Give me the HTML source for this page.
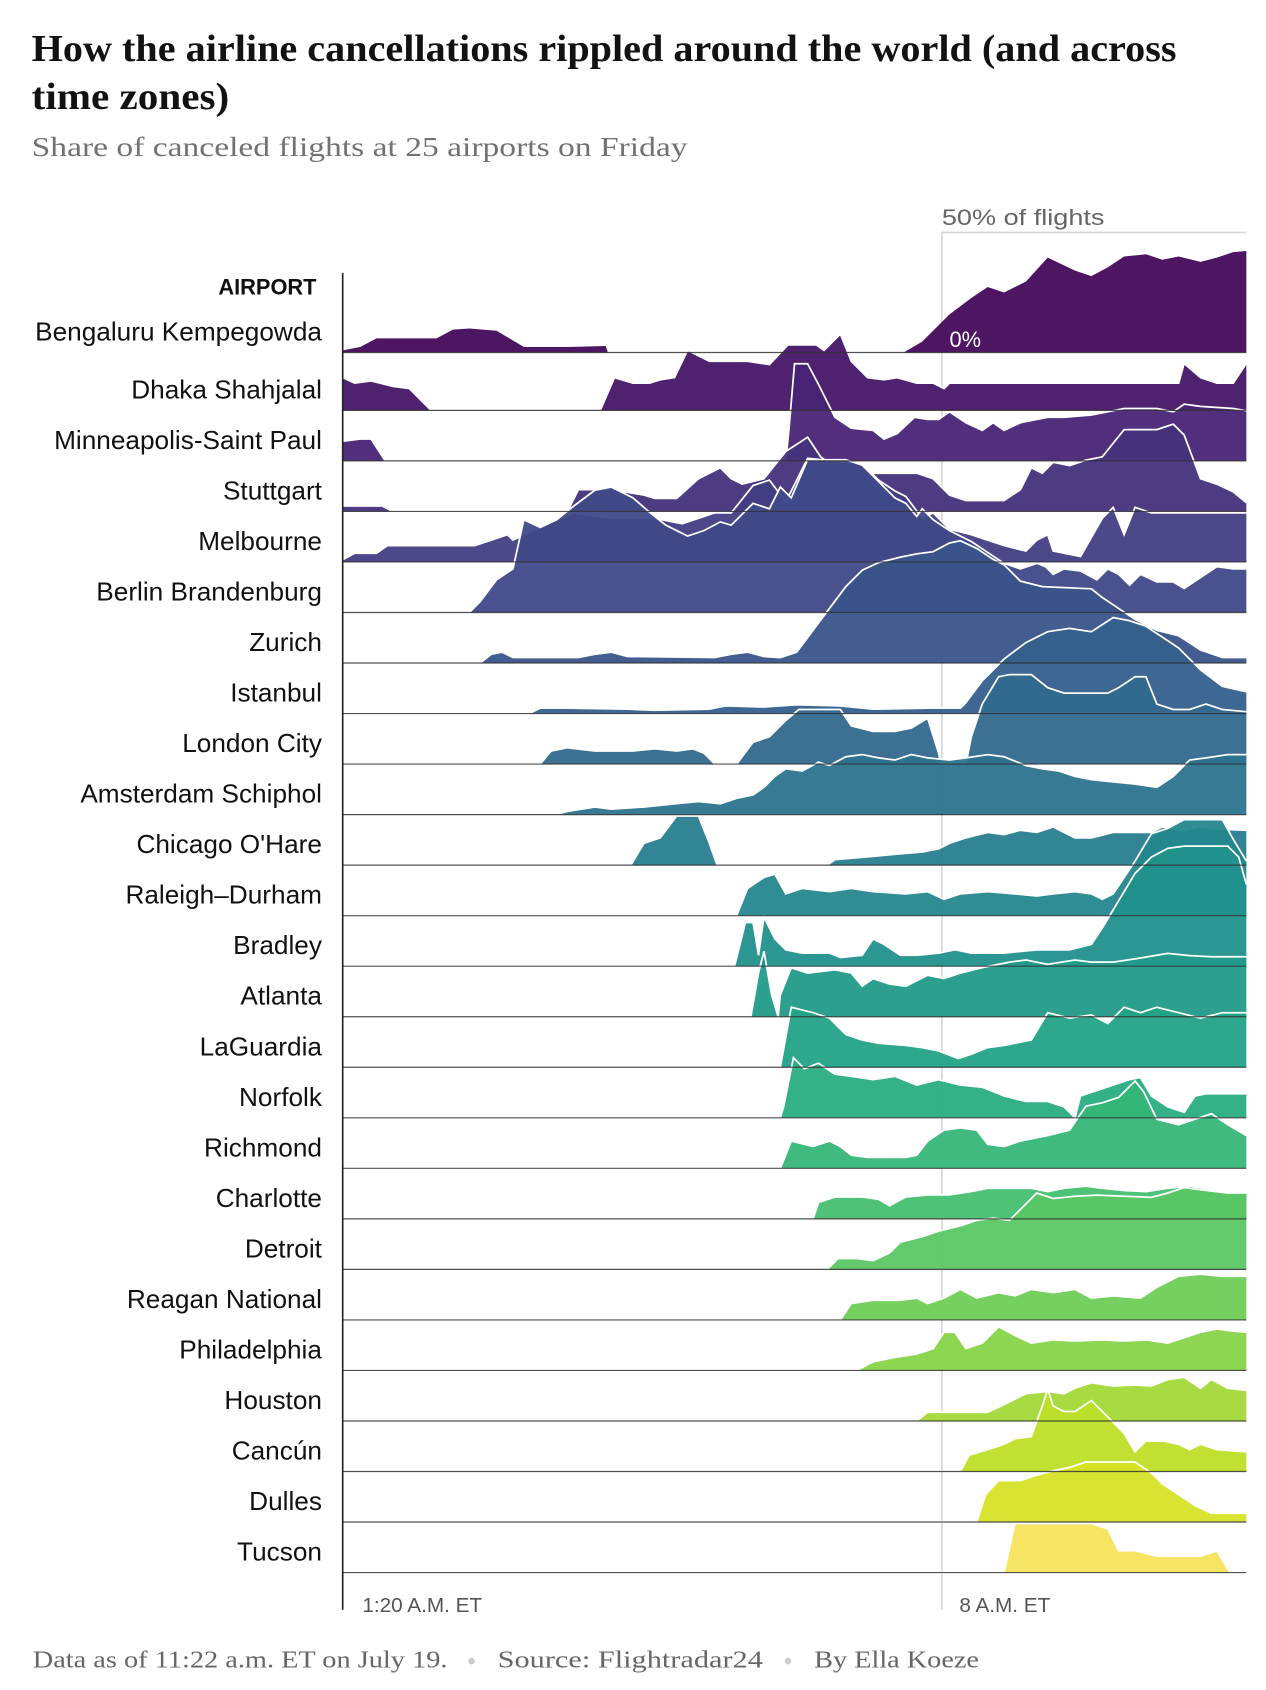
<!DOCTYPE html>
<html><head><meta charset="utf-8">
<style>
html,body{margin:0;padding:0;background:#fff;width:1266px;height:1690px;overflow:hidden}
svg{display:block}
.lab{font-family:"Liberation Sans",sans-serif;font-size:24px;fill:#111;text-anchor:end}
</style></head>
<body>
<svg id="s" width="1266" height="1690" viewBox="0 0 1160 1548.5" xmlns="http://www.w3.org/2000/svg">
<text x="29" y="56" font-family="Liberation Serif,serif" font-weight="bold" font-size="35" fill="#121212" textLength="1049" lengthAdjust="spacingAndGlyphs">How the airline cancellations rippled around the world (and across</text>
<text x="29" y="100" font-family="Liberation Serif,serif" font-weight="bold" font-size="35" fill="#121212" textLength="181" lengthAdjust="spacingAndGlyphs">time zones)</text>
<text x="29" y="143" font-family="Liberation Serif,serif" font-size="25" fill="#727272" textLength="601" lengthAdjust="spacingAndGlyphs">Share of canceled flights at 25 airports on Friday</text>
<line x1="863" y1="213" x2="863" y2="1475" stroke="#d6d6d6" stroke-width="1.5"/>
<line x1="863" y1="213" x2="1142" y2="213" stroke="#d6d6d6" stroke-width="1.5"/>
<text x="863" y="206" font-family="Liberation Sans,sans-serif" font-size="20" fill="#666" textLength="149" lengthAdjust="spacingAndGlyphs">50% of flights</text>
<g id="rows"></g>
<line x1="314" y1="250" x2="314" y2="1475" stroke="#222" stroke-width="1.5"/>
<text x="870" y="318" font-family="Liberation Sans,sans-serif" font-size="20" fill="#fff">0%</text>
<text x="290" y="270" font-family="Liberation Sans,sans-serif" font-weight="bold" font-size="20" fill="#111" text-anchor="end">AIRPORT</text>
<g id="labs"></g>
<text x="332" y="1477" font-family="Liberation Sans,sans-serif" font-size="19" fill="#555">1:20 A.M. ET</text>
<text x="879" y="1477" font-family="Liberation Sans,sans-serif" font-size="19" fill="#555">8 A.M. ET</text>
<text x="30" y="1528" font-family="Liberation Serif,serif" font-size="22" fill="#666" textLength="380" lengthAdjust="spacingAndGlyphs">Data as of 11:22 a.m. ET on July 19.</text>
<circle cx="432" cy="1522" r="3" fill="#ccc"/>
<text x="456" y="1528" font-family="Liberation Serif,serif" font-size="22" fill="#666" textLength="243" lengthAdjust="spacingAndGlyphs">Source: Flightradar24</text>
<circle cx="722" cy="1522" r="3" fill="#ccc"/>
<text x="746" y="1528" font-family="Liberation Serif,serif" font-size="22" fill="#666" textLength="151" lengthAdjust="spacingAndGlyphs">By Ella Koeze</text>
</svg>
<script>
(function(){
var names=["Bengaluru Kempegowda","Dhaka Shahjalal","Minneapolis-Saint Paul","Stuttgart","Melbourne","Berlin Brandenburg","Zurich","Istanbul","London City","Amsterdam Schiphol","Chicago O'Hare","Raleigh\u2013Durham","Bradley","Atlanta","LaGuardia","Norfolk","Richmond","Charlotte","Detroit","Reagan National","Philadelphia","Houston","Canc\u00fan","Dulles","Tucson"];
var D=[
"314:2,330:5,345:13,400:13,415:21,430:22,455:20,480:5,520:5,555:6,557:0,828:0,845:10,870:35,890:50,905:60,920:55,940:65,960:87,985:75,1000:70,1015:78,1030:88,1050:90,1065:85,1080:88,1100:83,1115:87,1130:92,1142:93",
"314:30,325:25,340:27,360:22,375:20,395:0,550:0,563:30,580:25,595:25,605:28,618:30,630:55,650:45,685:45,705:42,722:60,748:60,755:55,770:70,780:45,795:30,810:28,822:30,840:25,855:25,865:20,870:25,1080:25,1085:43,1100:30,1115:25,1130:25,1142:43",
"314:18,330:20,340:20,353:0,720:0,723:30,728:89,740:89,750:70,765:40,780:30,800:28,810:20,822:25,838:40,850:38,860:38,870:45,885:35,900:28,910:35,920:28,935:35,960:40,975:40,1000:42,1030:48,1060:48,1075:45,1085:52,1100:50,1130:48,1142:46",
"314:5,350:5,360:0,520:0,530:20,560:20,590:15,600:12,620:12,640:30,660:40,670:30,680:25,700:30,712:45,720:55,740:68,752:50,765:40,780:35,805:35,820:35,840:35,855:30,870:15,885:10,905:10,920:10,935:20,945:40,955:35,965:45,980:42,995:47,1010:50,1030:75,1060:75,1075:80,1085:70,1100:30,1115:25,1130:18,1142:8",
"314:2,325:8,345:8,355:15,435:15,450:20,465:25,470:20,525:45,560:40,600:40,625:35,640:40,655:45,670:45,690:70,705:75,720:55,740:95,790:90,805:75,820:65,830:60,845:40,855:45,870:30,890:25,905:20,920:15,940:10,950:20,960:25,965:10,990:5,1010:40,1020:50,1030:25,1040:50,1055:45,1142:45",
"314:0,430:0,440:10,455:30,470:40,480:85,495:78,510:85,525:97,545:112,560:115,580:105,595:92,610:80,630:70,645:75,660:83,670:80,690:100,705:95,715:115,725:105,740:140,775:140,790:135,805:120,820:105,830:100,840:88,845:95,855:85,870:75,890:65,905:55,920:45,935:40,950:45,958:42,965:35,975:40,990:38,1005:30,1015:40,1025:35,1035:25,1045:35,1060:28,1075:28,1085:22,1100:32,1115:42,1130:40,1142:40",
"314:0,440:0,450:8,460:10,470:5,530:5,545:8,560:10,575:6,655:5,670:8,685:10,700:6,715:5,730:10,745:30,760:50,775:70,790:85,805:92,825:97,840:100,855:102,870:110,880:112,895:105,910:95,920:90,935:75,955:70,1000:68,1010:60,1025:50,1040:40,1060:30,1080:25,1100:12,1120:5,1142:5",
"314:0,485:0,495:5,520:5,575:4,600:3,650:4,665:7,700:6,730:8,770:7,800:4,850:5,880:5,885:10,900:30,920:50,940:65,960:75,980:78,1000:75,1020:88,1035:85,1050:80,1065:70,1080:60,1100:40,1120:25,1142:20",
"314:0,495:0,505:12,520:15,545:12,580:12,600:14,620:12,635:14,645:10,655:0,675:0,690:20,705:25,720:40,732:50,770:50,780:35,800:30,820:30,835:33,850:42,860:10,862:0,885:0,890:25,900:55,915:80,925:82,945:82,960:70,975:65,1015:65,1025:70,1040:80,1050:80,1060:55,1075:50,1090:50,1105:55,1120:50,1142:48",
"314:0,510:0,520:3,545:7,560:5,590:7,620:10,640:12,660:10,675:15,690:18,700:25,710:35,720:42,735:40,750:48,760:45,775:53,790:55,805:52,820:50,835:55,850:52,870:50,885:52,905:55,920:53,940:45,955:42,970:40,985:35,1000:32,1020:30,1040:28,1060:25,1075:35,1090:50,1105:52,1125:55,1142:55",
"314:0,578:0,590:20,605:25,620:45,640:45,650:20,657:0,758:0,765:5,800:8,820:10,845:12,860:15,870:20,885:25,905:30,920:28,935:32,950:30,965:35,985:25,1000:25,1020:30,1055:30,1065:35,1085:32,1100:35,1115:33,1142:32",
"314:0,675:0,685:25,700:35,710:38,720:20,735:25,760:22,780:25,800:22,830:20,850:22,865:15,880:20,905:22,930:20,950:18,965:20,985:22,1000:20,1010:15,1020:20,1040:50,1055:75,1070:80,1085:88,1120:88,1130:70,1142:50",
"314:0,673:0,683:40,690:40,695:10,700:45,710:25,720:15,735:12,760:12,770:8,790:10,800:25,810:20,825:10,840:10,860:12,875:15,890:12,920:12,950:15,980:15,1000:20,1010:35,1025:60,1040:85,1055:100,1070:108,1085:110,1125:110,1135:100,1142:75",
"314:0,688:0,695:40,700:60,707:20,713:0,715:20,725:45,740:40,765:43,780:40,790:28,800:35,815:30,830:28,850:38,865:35,880:40,900:45,925:50,940:52,960:48,985:52,1000:50,1020:50,1040:53,1070:58,1090:56,1110:55,1142:55",
"314:0,715:0,725:55,745:50,760:45,775:30,790:25,805:22,830:20,845:18,860:15,878:8,890:12,905:18,920:20,945:25,960:50,980:45,1000:48,1015:40,1030:55,1045:50,1060:55,1080:50,1100:45,1120:50,1142:50",
"314:0,715:0,718:10,727:55,737:45,750:50,765:40,780:38,800:35,820:38,840:30,860:35,880:30,900:28,920:20,940:15,960:15,975:10,985:0,990:20,1005:25,1020:30,1035:35,1045:37,1055:20,1070:10,1085:5,1095:20,1105:22,1142:22",
"314:0,715:0,725:25,745:20,760:25,770:20,780:12,795:10,830:10,840:12,850:25,865:35,880:37,895:35,905:22,920:20,935:25,960:30,980:35,995:57,1010:60,1025:65,1040:80,1048:70,1060:45,1080:40,1095:45,1110:50,1125:40,1142:30",
"314:0,745:0,750:15,765:20,790:20,805:18,815:12,830:20,850:22,870:22,890:25,905:28,945:28,960:25,975:28,995:30,1010:28,1030:26,1050:25,1070:28,1090:30,1110:27,1125:25,1142:25",
"314:0,758:0,768:10,785:10,800:8,815:15,825:25,845:30,860:35,880:40,895:45,910:47,925:45,935:55,950:70,965:65,985:67,1005:68,1030:67,1055:66,1070:70,1085:75,1100:73,1125:70,1142:70",
"314:0,770:0,780:15,800:18,825:18,840:20,850:15,865:20,880:28,895:20,915:25,930:22,945:28,965:25,985:28,1000:20,1020:22,1045:20,1060:30,1080:40,1100:42,1120:40,1142:40",
"314:0,785:0,800:8,820:12,840:15,855:20,865:35,875:35,885:20,900:25,915:40,930:32,945:25,965:28,985:27,1010:28,1030:27,1050:28,1070:25,1085:30,1100:35,1115:38,1130:36,1142:35",
"314:0,840:0,850:8,905:8,920:15,940:25,960:27,975:25,985:30,1000:35,1020:32,1040:33,1055:32,1070:38,1085:40,1100:30,1110:38,1125:30,1142:28",
"314:0,880:0,888:15,905:20,920:25,930:30,945:32,955:60,960:75,965:60,975:55,985:55,1000:65,1010:55,1020:45,1030:35,1040:18,1050:28,1065:28,1080:25,1090:20,1100:25,1115:20,1142:18",
"314:0,895:0,903:25,915:38,935:38,950:43,965:47,980:50,995:55,1010:55,1040:55,1055:45,1065:35,1080:25,1095:15,1110:8,1125:8,1142:8",
"314:0,920:0,930:45,975:45,1000:45,1015:40,1025:20,1040:20,1060:15,1100:15,1115:20,1127:0,1142:0"];
var vir=[[68,1,84],[72,36,117],[65,68,135],[53,95,141],[42,120,142],[33,145,140],[34,168,132],[68,191,112],[122,209,81],[189,223,38],[253,231,37]];
function col(t){t=t*10;var i=Math.min(9,Math.floor(t)),f=t-i,c0=vir[i],c1=vir[i+1];
return "rgb("+[0,1,2].map(function(k){return Math.round(c0[k]+(c1[k]-c0[k])*f)}).join(",")+")";}
var NS="http://www.w3.org/2000/svg",g=document.getElementById("rows"),L=document.getElementById("labs");
var bases=[323];for(var i=1;i<25;i++)bases.push(376+(i-1)*46.3);
var lines=[];
for(var i=0;i<25;i++){
 var bl=bases[i];
 var pts=D[i].split(",").map(function(s){var p=s.split(":");return [+p[0],(bl-(+p[1])).toFixed(1)];});
 var edge=pts.map(function(p){return p[0]+","+p[1]}).join(" L");
 var c=col(i/24*0.96+0.02);
 if(i==24)c="rgb(245,228,90)";
 var ar=document.createElementNS(NS,"path");
 ar.setAttribute("d","M314,"+bl+" L"+edge+" L1142,"+bl+" Z");ar.setAttribute("fill",c);ar.setAttribute("fill-opacity","0.95");g.appendChild(ar);
 if(i>0){var st=document.createElementNS(NS,"path");st.setAttribute("d","M"+edge);st.setAttribute("fill","none");st.setAttribute("stroke","#fff");st.setAttribute("stroke-width","1.6");g.appendChild(st);}
 var ln=document.createElementNS(NS,"line");ln.setAttribute("x1",314);ln.setAttribute("x2",1142);ln.setAttribute("y1",bl);ln.setAttribute("y2",bl);ln.setAttribute("stroke","#333");ln.setAttribute("stroke-width","1.1");ln.setAttribute("stroke-opacity","0.85");lines.push(ln);
 var tx=document.createElementNS(NS,"text");tx.setAttribute("x",295);tx.setAttribute("y",bl-11);tx.setAttribute("class","lab");tx.textContent=names[i];L.appendChild(tx);
}
lines.forEach(function(l){g.appendChild(l)});
})();
</script>
</body></html>
